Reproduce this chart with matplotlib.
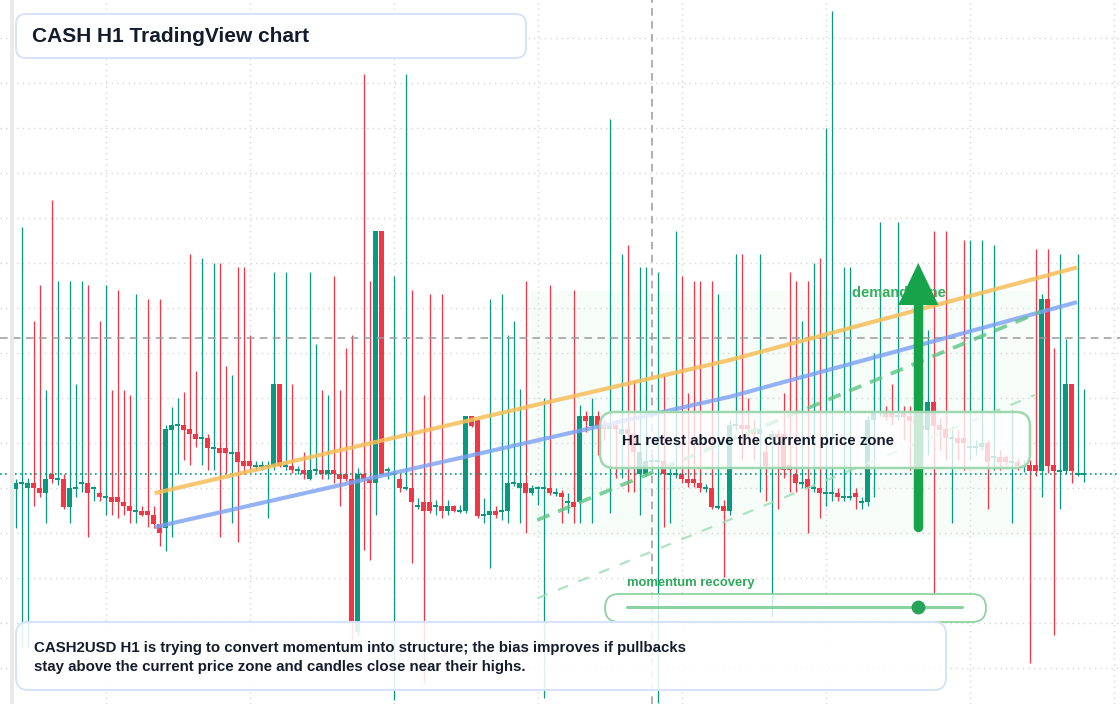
import numpy as np
import matplotlib
matplotlib.use("Agg")
import matplotlib.pyplot as plt
from matplotlib.patches import Rectangle, FancyBboxPatch, Polygon

plt.rcParams['font.family'] = ['Liberation Sans', 'DejaVu Sans']

# H1 candles, price in chart points (one candle per hour)
opens = [
    215, 220.5, 216, 221, 216, 211, 230, 224.5, 225, 197,
    215.5, 220.5, 221, 215.5, 211, 206.5, 207, 207, 202, 198,
    192.5, 193, 193, 189, 180, 176, 274, 278.5, 279, 275,
    270, 265.5, 266, 255.5, 256, 256, 250.5, 252, 243, 243,
    237.5, 237.5, 237.5, 238, 320, 237.5, 238, 233.5, 234, 225,
    233.5, 234, 230, 234, 230, 230, 225, 72, 230, 225,
    221, 473, 233.5, 229.5, 225, 215.5, 216, 197.5, 202, 202,
    197.5, 198, 193, 198, 192.5, 193, 288, 284, 188.5, 189,
    193, 192.5, 193, 220.5, 216, 221, 211, 215.5, 215.5, 216,
    210.5, 211, 202, 202, 202, 288, 278, 288, 279, 275,
    279, 270, 275, 270, 230, 230, 242.5, 242.5, 243, 229.5,
    229.5, 230, 225, 225, 221, 215.5, 216, 196.5, 198, 193,
    278.5, 279, 279, 275, 270, 252, 266, 270, 270, 239,
    230, 220.5, 225, 215.5, 216, 210.5, 210.5, 211, 206.5, 206.5,
    211, 201.5, 202, 284, 291, 292, 292, 288, 292, 288,
    283, 279, 274, 302, 279, 275, 265.5, 266, 266, 256.5,
    256.5, 257, 261, 246.5, 247, 247, 241.5, 242, 237.5, 239,
    239, 233, 405, 239, 232.5, 233, 320, 229.5, 229.5]
highs = [
    225, 477, 226, 383, 419, 314, 504, 423, 230, 423,
    320, 423, 419, 218, 383, 419, 314, 414, 314, 309,
    410, 198, 405, 198, 405, 279, 297, 306, 312, 450,
    333, 446, 270, 441, 441, 338, 329, 437, 437, 369,
    243, 243, 243, 432, 320, 432, 320, 238, 252, 432,
    360, 314, 309, 428, 314, 356, 369, 236, 630, 423,
    473, 473, 237, 428, 230, 630, 414, 206, 309, 410,
    204, 410, 204, 199, 199, 288, 288, 284, 206, 405,
    198, 410, 369, 383, 315, 423, 219, 218, 306, 419,
    216, 214, 211, 414, 299, 293, 306, 293, 284, 585,
    284, 450, 459, 324, 437, 437, 249, 432, 329, 238,
    473, 428, 311, 423, 423, 220, 423, 410, 204, 284,
    450, 450, 306, 284, 450, 264, 274, 274, 311, 432,
    423, 383, 423, 441, 446, 576, 693, 216, 437, 437,
    216, 207, 288, 351, 482, 298, 320, 482, 298, 298,
    289, 288, 374, 473, 286, 473, 278, 274, 464, 464,
    264, 464, 264, 459, 254, 249, 294, 246, 244, 244,
    455, 410, 455, 356, 450, 365, 320, 450, 315]
lows = [
    176, 56, 56, 198, 207, 181, 221, 219, 195, 181,
    207, 212, 167, 203, 203, 189, 189, 186, 189, 181,
    181, 188, 177, 176, 158, 153, 167, 230, 244, 239,
    257, 239, 234, 234, 167, 230, 181, 162, 230, 234,
    234, 234, 186, 234, 237, 234, 231, 230, 225, 224,
    230, 225, 225, 221, 198, 223, 64, 68, 154, 144,
    189, 229, 225, 4, 212, 214, 141, 195, 21, 191,
    189, 186, 189, 192, 191, 191, 277, 186, 181, 136,
    186, 184, 181, 218, 181, 171, 209, 199, 6, 209,
    208, 181, 191, 181, 181, 272, 181, 249, 264, 191,
    226, 226, 212, 212, 189, 228, 234, 1, 177, 181,
    226, 221, 217, 217, 212, 212, 195, 195, 127, 189,
    274, 244, 264, 244, 212, 203, 87, 195, 226, 212,
    212, 216, 171, 212, 186, 198, 203, 203, 203, 204,
    195, 195, 198, 207, 288, 284, 279, 284, 264, 234,
    279, 234, 249, 111, 254, 244, 181, 244, 234, 244,
    249, 254, 195, 234, 234, 239, 181, 234, 232, 41,
    228, 207, 231, 69, 195, 230, 221, 228, 222]
closes = [
    221, 221, 221, 216, 211, 225, 225, 225, 197, 216,
    216, 221, 211, 216, 207, 207, 202, 202, 198, 193,
    193, 189, 189, 180, 171, 275, 279, 279, 274, 270,
    265, 266, 256, 256, 251, 251, 251, 242, 238, 238,
    238, 238, 238, 320, 238, 238, 234, 234, 230, 234,
    234, 230, 234, 230, 225, 225, 82, 230, 225, 221,
    473, 230, 234, 230, 216, 216, 202, 198, 193, 193,
    198, 193, 198, 193, 193, 288, 278, 188, 189, 193,
    189, 193, 221, 221, 221, 211, 216, 216, 216, 211,
    211, 207, 202.5, 197, 288, 283, 288, 278, 275, 279,
    275, 275, 270, 252, 252, 243, 243, 243, 230, 230,
    230, 225, 221, 221, 216, 216, 197, 197, 193, 279,
    279, 275, 275, 270, 275, 238, 270, 266, 234, 234,
    221, 221, 216, 216, 211, 211, 211, 207, 207, 207,
    207, 202, 284, 292, 292, 287, 287, 288.5, 287, 283,
    283.5, 274, 302, 278, 274, 266, 266, 261, 261, 257,
    257, 261, 242, 247, 242, 242, 242, 238, 238, 233,
    233, 405, 238, 233, 233, 320, 233, 230, 230]

last_price = 230
crosshair = (106, 366)          # candle index, price
# drawn levels: (candle index, price) points
orange_trend = ([23.5, 119.05, 176.55], [211.3, 344, 436])
blue_trend = ([23.5, 119.05, 176.55], [177.3, 307.3, 401.3])
green_channel = ([86.93, 170.72], [184, 392])
green_channel_low = ([86.93, 169.88], [105.7, 309])
demand_zone = (85.7, 172.05, 167, 413)   # x0, x1, p0, p1
arrow_x, arrow_from, arrow_to = 150.43, 177, 441
momentum_score = 0.87

GREEN = '#089981'
RED = '#f23645'
INK = '#131b2d'

fig = plt.figure(figsize=(11.2, 7.04), dpi=100)
ax = fig.add_axes([0, 0, 1, 1])
ax.set_xlim(-2.62, 184.05)
ax.set_ylim(0, 704)
ax.axis('off')

# demand zone (very faint, under the grid)
ax.add_patch(Rectangle((demand_zone[0], demand_zone[2]), demand_zone[1] - demand_zone[0],
                       demand_zone[3] - demand_zone[2], fc='#f6fcf8', lw=0, zorder=-1))

# dotted grid
for p in range(36, 700, 45):
    ax.axhline(p, color='#d6d6d6', lw=1, ls=(0, (1, 3)), zorder=0)
for g in range(15, 184, 24):
    ax.axvline(g, color='#d6d6d6', lw=1, ls=(0, (1, 3)), zorder=0)

# candles
o = np.array(opens, dtype=float)
h = np.array(highs, dtype=float)
l = np.array(lows, dtype=float)
c = np.array(closes, dtype=float)
idx = np.arange(len(o))
col = np.where(c >= o, GREEN, RED)
ax.vlines(idx, l, h, colors=col, lw=0.9, zorder=2)
body = np.maximum(np.abs(c - o), 1.6)
mid = (o + c) / 2
ax.bar(idx, body, bottom=mid - body / 2, width=0.74, color=col, lw=0, zorder=3)

# current price + crosshair
ax.axhline(last_price, color=GREEN, lw=1.2, ls=(0, (1, 2)), zorder=4)
ax.axhline(crosshair[1], color='#9a9a9a', lw=1.1, ls=(0, (5, 3.5)), zorder=4)
ax.axvline(crosshair[0], color='#9a9a9a', lw=1.1, ls=(0, (5, 3.5)), zorder=4)

# trend lines
ax.plot(*orange_trend, color='#f6bd58', lw=3, alpha=0.85, zorder=5)
ax.plot(*blue_trend, color='#7aa0f2', lw=3, alpha=0.8, zorder=5)
ax.plot(*green_channel, color='#5cc485', lw=2.7, alpha=0.8, ls=(0, (3.5, 2.5)), zorder=5)
ax.plot(*green_channel_low, color='#9edcb3', lw=1.6, alpha=0.8, ls=(0, (5, 5)), zorder=5)

ax.text(139.3, 411, 'demand zone', color='#35ae5f', fontsize=10.5, fontweight='bold',
        va='center', ha='left', zorder=6)

# arrow: shaft + head
head_len, head_half = 42, 3.35
ax.plot([arrow_x, arrow_x], [arrow_from, arrow_to - head_len + 1], color='#16a34a',
        lw=6.8, solid_capstyle='round', zorder=7)
ax.add_patch(Polygon([[arrow_x - head_half, arrow_to - head_len], [arrow_x + head_half, arrow_to - head_len],
                      [arrow_x, arrow_to]], closed=True, fc='#16a34a', lw=0, zorder=7))

# overlay in pixel units for the panels
ov = fig.add_axes([0, 0, 1, 1])
ov.set_xlim(0, 1120)
ov.set_ylim(704, 0)
ov.axis('off')
ov.patch.set_alpha(0)

ov.add_patch(Rectangle((10, 0), 4, 704, fc='#e9e9e9', lw=0))


def panel(x0, y0, x1, y1, fc, ec, lw, r):
    ov.add_patch(FancyBboxPatch((x0, y0), x1 - x0, y1 - y0,
                                boxstyle="round,pad=0,rounding_size=%s" % r,
                                fc=fc, ec=ec, lw=lw))


panel(16, 14, 526, 58, 'white', '#d5e3fa', 1.4, 10)
ov.text(32, 36, 'CASH H1 TradingView chart', fontsize=15, fontweight='bold', color=INK, va='center')

panel(600, 412, 1030, 468, (1, 1, 1, 0.78), '#9fd8b0', 1.8, 14)
ov.text(622, 441, 'H1 retest above the current price zone', fontsize=10.8, fontweight='bold',
        color=INK, va='center')

panel(605, 594, 986, 622, (1, 1, 1, 0.8), '#8fd3a5', 1.3, 14)
ov.text(627, 583, 'momentum recovery', fontsize=9.4, fontweight='bold', color='#2ea85b', va='center')
ov.plot([627, 962], [607, 607], color='#8ad1a3', lw=2.2, solid_capstyle='round')
ov.plot(627 + momentum_score * (962 - 627), 607, 'o', ms=10, color='#28a35a', mec='none')

panel(16, 622, 946, 690, (1, 1, 1, 0.88), '#d5e3fa', 1.4, 12)
ov.text(34, 657.5, 'CASH2USD H1 is trying to convert momentum into structure; the bias improves if pullbacks\n'
        'stay above the current price zone and candles close near their highs.',
        fontsize=10.85, fontweight='bold', color=INK, va='center', linespacing=1.42)

fig.savefig('out.png', dpi=100)
